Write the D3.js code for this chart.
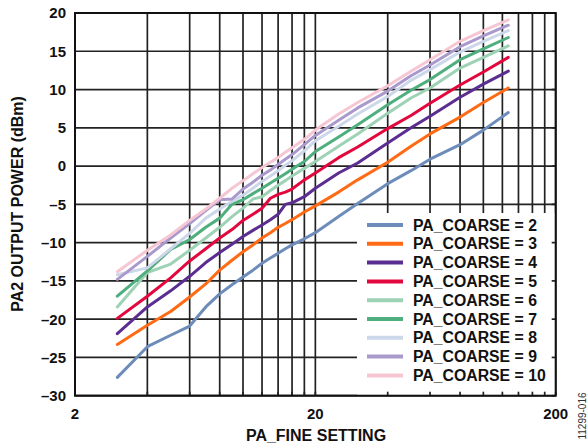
<!DOCTYPE html>
<html><head><meta charset="utf-8">
<script src="https://cdn.jsdelivr.net/npm/d3@7"></script>
<style>body{margin:0;background:#fff;} svg{display:block;}</style>
</head><body>
<svg id="chart" width="588" height="446"></svg>
<script>
const fineSetting = [3,4,5,6,7,8,9,10,11,12,13,14,15,16,18,20,25,30,40,50,60,80,100,127];
const coarse2  = [-27.6,-23.6,-22.1,-20.9,-18.4,-16.7,-15.5,-14.5,-13.6,-12.7,-12.0,-11.4,-10.8,-10.3,-9.5,-8.7,-6.6,-4.9,-2.3,-0.6,0.9,2.8,4.7,7.0];
const coarse3  = [-23.3,-20.8,-19.0,-17.1,-15.4,-13.6,-12.3,-11.2,-10.3,-9.4,-8.7,-8.0,-7.5,-7.0,-6.0,-5.2,-3.4,-1.8,0.5,2.6,4.2,6.4,8.3,10.2];
const coarse4  = [-21.9,-18.4,-16.3,-14.4,-12.6,-11.3,-10.2,-9.2,-8.4,-7.7,-7.0,-6.3,-5.0,-4.8,-4.0,-2.9,-0.9,0.4,3.0,5.0,6.5,9.0,10.7,12.4];
const coarse5  = [-19.9,-17.0,-14.6,-12.4,-10.8,-9.4,-8.3,-7.1,-6.3,-5.5,-4.2,-3.7,-3.4,-3.0,-1.8,-0.9,1.1,2.5,4.9,6.6,8.2,10.6,12.3,14.2];
const coarse6  = [-18.4,-13.9,-12.8,-11.0,-9.4,-8.0,-6.6,-5.5,-4.3,-4.0,-3.2,-2.5,-1.9,-1.3,-0.3,0.6,2.6,4.2,6.9,8.9,10.2,12.8,14.2,15.7];
const coarse7  = [-17.0,-13.7,-10.9,-9.6,-8.0,-6.8,-5.0,-4.4,-3.6,-2.9,-2.2,-1.6,-1.0,-0.4,0.6,1.9,3.8,5.4,8.0,9.9,11.3,13.9,15.3,16.8];
const coarse8  = [-14.2,-13.3,-10.8,-8.8,-6.8,-5.6,-4.6,-3.8,-2.9,-2.0,-1.3,-0.6,0.1,0.7,2.0,3.3,5.2,6.8,9.1,11.2,12.6,14.9,16.3,17.7];
const coarse9  = [-14.8,-11.8,-9.4,-7.5,-5.8,-4.4,-4.3,-3.0,-2.1,-1.2,-0.5,0.2,0.9,1.5,2.8,4.0,6.0,7.6,9.8,11.8,13.2,15.6,17.0,18.4];
const coarse10 = [-13.8,-11.0,-9.0,-7.1,-5.6,-4.2,-2.9,-1.9,-1.0,-0.2,0.5,1.1,1.8,2.4,3.5,4.7,6.8,8.3,10.5,12.4,13.9,16.3,17.7,19.1];
const seriesNames = ["PA_COARSE = 2","PA_COARSE = 3","PA_COARSE = 4","PA_COARSE = 5","PA_COARSE = 6","PA_COARSE = 7","PA_COARSE = 8","PA_COARSE = 9","PA_COARSE = 10"];
const seriesValues = [coarse2,coarse3,coarse4,coarse5,coarse6,coarse7,coarse8,coarse9,coarse10];
const seriesColors = ["#6d8cba","#ff6a14","#5b2d90","#e2073c","#9ed2b5","#4fae7e","#cdd7ea","#a999cd","#f6c7d3"];
const xTickLabels = [2,20,200];
const yTickLabels = [-30,-25,-20,-15,-10,-5,0,5,10,15,20];
const xGridValues = [2,4,6,8,10,12,14,16,18,20,40,60,80,100,120,140,160,180,200];

const svg = d3.select("#chart");
const L = 75, R = 555.7, T = 13, B = 395.7;
const x = d3.scaleLog().domain([2,200]).range([L,R]);
const y = d3.scaleLinear().domain([-30,20]).range([B,T]);
const font = "'Liberation Sans', Arial, Helvetica, sans-serif";

// grid
const grid = svg.append("g").attr("stroke","#222").attr("stroke-width",1.7);
grid.selectAll("line.v").data(xGridValues).enter().append("line")
  .attr("x1",d=>x(d)).attr("x2",d=>x(d)).attr("y1",T).attr("y2",B);
grid.selectAll("line.h").data(yTickLabels).enter().append("line")
  .attr("x1",L).attr("x2",R).attr("y1",d=>y(d)).attr("y2",d=>y(d));

// series lines
const line = d3.line().x(d=>x(d[0])).y(d=>y(d[1]));
seriesValues.forEach((vals,i)=>{
  svg.append("path")
    .datum(fineSetting.map((f,j)=>[f,vals[j]]))
    .attr("fill","none").attr("stroke",seriesColors[i])
    .attr("stroke-width",3).attr("stroke-linejoin","round").attr("stroke-linecap","round")
    .attr("d",line);
});

// legend
const lg = svg.append("g");
lg.append("rect").attr("x",357).attr("y",213).attr("width",R-357).attr("height",B-213).attr("fill","#fff");
seriesNames.forEach((n,i)=>{
  const yy = 225 + i*18.8;
  lg.append("line").attr("x1",367).attr("x2",403).attr("y1",yy).attr("y2",yy)
    .attr("stroke",seriesColors[i]).attr("stroke-width",4);
  lg.append("text").attr("x",413).attr("y",yy).attr("dy","0.36em")
    .attr("font-family",font).attr("font-weight","bold").attr("font-size","15.8px")
    .attr("fill","#111").text(n);
});

// inner ticks over legend on bottom and right
const tk = svg.append("g").attr("stroke","#222").attr("stroke-width",1.7);
tk.selectAll("line.bt").data(xGridValues).enter().append("line")
  .attr("x1",d=>x(d)).attr("x2",d=>x(d)).attr("y1",B).attr("y2",B-4);
tk.selectAll("line.rt").data(yTickLabels).enter().append("line")
  .attr("x1",R).attr("x2",R-4).attr("y1",d=>y(d)).attr("y2",d=>y(d));

// frame
svg.append("rect").attr("x",L).attr("y",T).attr("width",R-L).attr("height",B-T)
  .attr("fill","none").attr("stroke","#111").attr("stroke-width",2);

// tick labels
svg.append("g").selectAll("text").data(yTickLabels).enter().append("text")
  .attr("x",66).attr("y",d=>y(d)).attr("dy","0.36em").attr("text-anchor","end")
  .attr("font-family",font).attr("font-weight","bold").attr("font-size","15px").attr("fill","#111")
  .text(d=>d<0?"\u2013"+Math.abs(d):d);
svg.append("g").selectAll("text").data(xTickLabels).enter().append("text")
  .attr("x",d=>x(d)).attr("y",414).attr("dy","0.36em").attr("text-anchor","middle")
  .attr("font-family",font).attr("font-weight","bold").attr("font-size","15px").attr("fill","#111")
  .text(d=>d);

// axis titles
svg.append("text").attr("x",316).attr("y",435).attr("dy","0.36em").attr("text-anchor","middle")
  .attr("font-family",font).attr("font-weight","bold").attr("font-size","16px").attr("fill","#111")
  .text("PA_FINE SETTING");
svg.append("text").attr("transform","translate(17,204) rotate(-90)").attr("dy","0.36em")
  .attr("text-anchor","middle")
  .attr("font-family",font).attr("font-weight","bold").attr("font-size","16px").attr("fill","#111")
  .text("PA2 OUTPUT POWER (dBm)");
svg.append("text").attr("transform","translate(582,416) rotate(-90)").attr("dy","0.36em")
  .attr("text-anchor","middle")
  .attr("font-family",font).attr("font-size","10px").attr("fill","#333")
  .text("11299-016");
</script>
</body></html>
